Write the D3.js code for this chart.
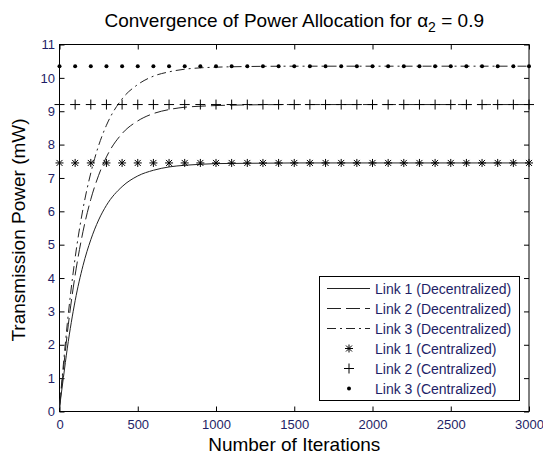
<!DOCTYPE html>
<html>
<head>
<meta charset="utf-8">
<script src="https://cdn.jsdelivr.net/npm/d3@7"></script>
<style>
body { margin: 0; background: #fff; }
text { font-family: Arial, "Liberation Sans", sans-serif; }
</style>
</head>
<body>
<script>
// decentralized curves
var iterations = [0, 25, 50, 100, 150, 200, 250, 300, 400, 500, 600, 700, 800, 900, 1000, 1200, 1500, 2000, 3000];
var link1Dec = [0.12, 1.02, 1.90, 3.32, 4.37, 5.15, 5.74, 6.18, 6.74, 7.06, 7.23, 7.33, 7.38, 7.41, 7.43, 7.44, 7.45, 7.45, 7.45];
var link2Dec = [0.12, 1.26, 2.35, 4.09, 5.39, 6.36, 7.08, 7.63, 8.33, 8.71, 8.93, 9.05, 9.12, 9.15, 9.17, 9.19, 9.2, 9.2, 9.2];
var link3Dec = [0.12, 1.42, 2.64, 4.61, 6.07, 7.15, 7.97, 8.58, 9.37, 9.80, 10.05, 10.18, 10.26, 10.30, 10.32, 10.34, 10.35, 10.35, 10.35];

// centralized solution (markers every 100 iterations)
var markerIters = [0, 100, 200, 300, 400, 500, 600, 700, 800, 900, 1000, 1100, 1200, 1300, 1400, 1500,
    1600, 1700, 1800, 1900, 2000, 2100, 2200, 2300, 2400, 2500, 2600, 2700, 2800, 2900, 3000];
var centralValues = [7.45, 9.2, 10.35];

var xTicks = [0, 500, 1000, 1500, 2000, 2500, 3000];
var yTicks = [0, 1, 2, 3, 4, 5, 6, 7, 8, 9, 10, 11];
var legendLabels = ["Link 1 (Decentralized)", "Link 2 (Decentralized)", "Link 3 (Decentralized)",
    "Link 1 (Centralized)", "Link 2 (Centralized)", "Link 3 (Centralized)"];

var width = 543;
var height = 455;
var plot = { left: 59.5, right: 529, top: 44.5, bottom: 411.5 };
var tickColor = "#1e1e66";

var svg = d3.select("body").append("svg")
    .attr("width", width)
    .attr("height", height);

var xScale = d3.scaleLinear().domain([0, 3000]).range([plot.left, plot.right]);
var yScale = d3.scaleLinear().domain([0, 11]).range([plot.bottom, plot.top]);

// axes, ticks pointing inward like matlab
var xAxisG = svg.append("g")
    .attr("transform", "translate(0," + plot.bottom + ")")
    .call(d3.axisBottom(xScale).tickValues(xTicks).tickFormat(d3.format("d"))
        .tickSize(-5).tickSizeOuter(0).tickPadding(8));
var xTopG = svg.append("g")
    .attr("transform", "translate(0," + plot.top + ")")
    .call(d3.axisTop(xScale).tickValues(xTicks).tickSize(-5).tickSizeOuter(0).tickFormat(""));
var yAxisG = svg.append("g")
    .attr("transform", "translate(" + plot.left + ",0)")
    .call(d3.axisLeft(yScale).tickValues(yTicks).tickSize(-5).tickSizeOuter(0).tickPadding(4.5));
var yRightG = svg.append("g")
    .attr("transform", "translate(" + plot.right + ",0)")
    .call(d3.axisRight(yScale).tickValues(yTicks).tickSize(-5).tickSizeOuter(0).tickFormat(""));

svg.selectAll(".domain").remove();
svg.selectAll(".tick line").attr("stroke", "#000");
svg.selectAll(".tick text")
    .attr("font-size", "13px")
    .attr("fill", tickColor)
    .style("font-family", "Arial, 'Liberation Sans', sans-serif");

svg.append("rect")
    .attr("x", plot.left)
    .attr("y", plot.top)
    .attr("width", plot.right - plot.left)
    .attr("height", plot.bottom - plot.top)
    .attr("fill", "none")
    .attr("stroke", "#000")
    .attr("stroke-width", 1);

// decentralized lines
var line = d3.line()
    .x(function(d) { return xScale(d[0]); })
    .y(function(d) { return yScale(d[1]); })
    .curve(d3.curveMonotoneX);

var decSeries = [link1Dec, link2Dec, link3Dec];
var dashes = [null, "14,5", "9,4,2,4"];

svg.selectAll(".dec")
    .data(decSeries)
    .enter()
    .append("path")
    .attr("class", "dec")
    .attr("fill", "none")
    .attr("stroke", "#222")
    .attr("stroke-width", 1)
    .attr("stroke-dasharray", function(d, i) { return dashes[i]; })
    .attr("d", function(d) {
        return line(iterations.map(function(it, j) { return [it, d[j]]; }));
    });

// marker shapes
var asterisk = "M0,-4L0,4M-4,0L4,0M-3,-3L3,3M-3,3L3,-3";
var plus = "M0,-5L0,5M-5,0L5,0";
function drawMarker(g, k) {
    if (k == 0) {
        g.append("path").attr("d", asterisk).attr("stroke", "#000").attr("stroke-width", 1);
    } else if (k == 1) {
        g.append("path").attr("d", plus).attr("stroke", "#000").attr("stroke-width", 1);
    } else {
        g.append("circle").attr("r", 2).attr("fill", "#000");
    }
}

centralValues.forEach(function(v, k) {
    svg.append("g").selectAll("g")
        .data(markerIters)
        .enter()
        .append("g")
        .attr("transform", function(d) {
            return "translate(" + xScale(d) + "," + yScale(v) + ")";
        })
        .each(function() { drawMarker(d3.select(this), k); });
});

// legend
var legend = svg.append("g");
legend.append("rect")
    .attr("x", 319.5)
    .attr("y", 276.5)
    .attr("width", 200)
    .attr("height", 124)
    .attr("fill", "#fff")
    .attr("stroke", "#000")
    .attr("stroke-width", 1);

var rowY = function(i) { return 288.5 + i * 20; };
legendLabels.forEach(function(label, i) {
    if (i < 3) {
        legend.append("line")
            .attr("x1", 327).attr("x2", 370)
            .attr("y1", rowY(i)).attr("y2", rowY(i))
            .attr("stroke", "#222")
            .attr("stroke-width", 1)
            .attr("stroke-dasharray", dashes[i]);
    } else {
        var mg = legend.append("g").attr("transform", "translate(349," + rowY(i) + ")");
        drawMarker(mg, i - 3);
    }
    legend.append("text")
        .attr("x", 375)
        .attr("y", rowY(i))
        .attr("dy", "0.36em")
        .attr("font-size", "14px")
        .attr("fill", tickColor)
        .text(label);
});

// title and axis labels
var title = svg.append("text")
    .attr("x", (plot.left + plot.right) / 2)
    .attr("y", 27)
    .attr("text-anchor", "middle")
    .attr("font-size", "19px")
    .attr("fill", "#000");
title.append("tspan").text("Convergence of Power Allocation for ");
title.append("tspan").text("\u03b1");
title.append("tspan").attr("font-size", "14px").attr("dy", "5").text("2");
title.append("tspan").attr("dy", "-5").text(" = 0.9");

svg.append("text")
    .attr("x", (plot.left + plot.right) / 2)
    .attr("y", 451)
    .attr("text-anchor", "middle")
    .attr("font-size", "19px")
    .attr("fill", "#000")
    .text("Number of Iterations");

svg.append("text")
    .attr("transform", "translate(25,230) rotate(-90)")
    .attr("text-anchor", "middle")
    .attr("font-size", "19px")
    .attr("fill", "#000")
    .text("Transmission Power (mW)");
</script>
</body>
</html>
